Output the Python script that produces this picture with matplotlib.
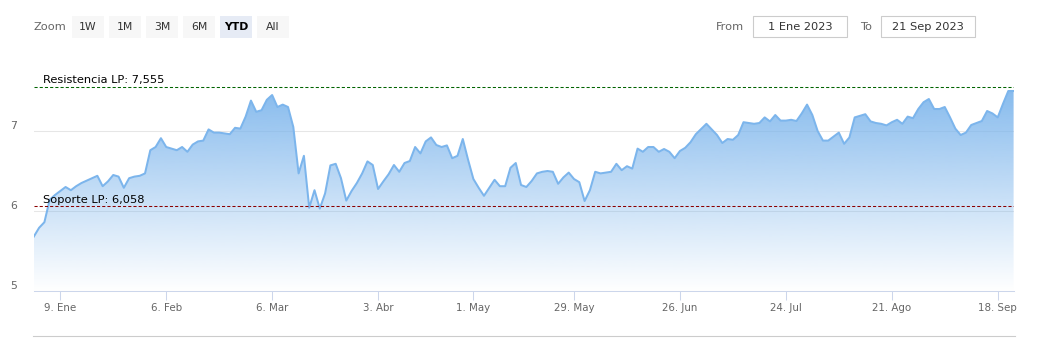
#!/usr/bin/env python3
"""Cotización YTD 2023 con soporte / resistencia de largo plazo (estilo Highstock)."""

import numpy as np
import pandas as pd
import matplotlib
matplotlib.use('Agg')
import matplotlib.pyplot as plt
from matplotlib.patches import Polygon, Rectangle
from matplotlib.lines import Line2D

# --- datos -------------------------------------------------------------------
START = '2023-01-02'
END = '2023-09-21'
HOLIDAYS = ['2023-04-07', '2023-04-10', '2023-05-01']   # sesiones sin cotización

PRICES = [
    5.68, 5.79, 5.86, 6.14, 6.20, 6.25, 6.30, 6.26, 6.31, 6.35,
    6.38, 6.41, 6.44, 6.31, 6.37, 6.45, 6.43, 6.29, 6.41, 6.43,
    6.44, 6.47, 6.76, 6.80, 6.91, 6.80, 6.78, 6.76, 6.80, 6.74,
    6.83, 6.87, 6.88, 7.02, 6.98, 6.98, 6.97, 6.96, 7.04, 7.03,
    7.18, 7.38, 7.24, 7.26, 7.39, 7.45, 7.30, 7.33, 7.30, 7.05,
    6.47, 6.69, 6.04, 6.26, 6.03, 6.22, 6.57, 6.59, 6.41, 6.13,
    6.25, 6.35, 6.47, 6.62, 6.575, 6.275, 6.37, 6.46, 6.575, 6.49,
    6.60, 6.625, 6.80, 6.72, 6.87, 6.92, 6.825, 6.80, 6.82, 6.66,
    6.69, 6.90, 6.64, 6.40, 6.29, 6.19, 6.29, 6.39, 6.31, 6.31,
    6.54, 6.60, 6.325, 6.30, 6.375, 6.47, 6.49, 6.50, 6.49, 6.34,
    6.42, 6.48, 6.40, 6.36, 6.125, 6.26, 6.49, 6.47, 6.48, 6.49,
    6.59, 6.51, 6.56, 6.53, 6.78, 6.74, 6.80, 6.80, 6.74, 6.775,
    6.74, 6.66, 6.75, 6.79, 6.86, 6.96, 7.025, 7.09, 7.02, 6.95,
    6.85, 6.90, 6.89, 6.95, 7.11, 7.10, 7.09, 7.10, 7.17, 7.12,
    7.20, 7.13, 7.13, 7.14, 7.125, 7.22, 7.33, 7.20, 7.00, 6.88,
    6.88, 6.93, 6.98, 6.84, 6.92, 7.17, 7.19, 7.21, 7.12, 7.10,
    7.09, 7.07, 7.11, 7.14, 7.09, 7.18, 7.16, 7.275, 7.36, 7.40,
    7.275, 7.275, 7.30, 7.17, 7.03, 6.95, 6.98, 7.075, 7.10, 7.125,
    7.25, 7.22, 7.17, 7.34, 7.50, 7.50,
]

RESISTANCE = 7.555
SUPPORT = 6.058
LEVEL_LABELS = ['Resistencia LP: 7,555', 'Soporte LP: 6,058']

TICK_DATES = ['2023-01-09', '2023-02-06', '2023-03-06', '2023-04-03', '2023-05-01',
              '2023-05-29', '2023-06-26', '2023-07-24', '2023-08-21', '2023-09-18']
TICK_LABELS = ['9. Ene', '6. Feb', '6. Mar', '3. Abr', '1. May',
               '29. May', '26. Jun', '24. Jul', '21. Ago', '18. Sep']
Y_TICKS = [5, 6, 7]

ZOOM_BUTTONS = ['1W', '1M', '3M', '6M', 'YTD', 'All']
SELECTED_BUTTON = 'YTD'
RANGE_FROM = '1 Ene 2023'
RANGE_TO = '21 Sep 2023'

# --- estilo ------------------------------------------------------------------
W, H = 1037, 338
SERIES_RGB = np.array([124, 181, 236]) / 255.0
LABEL_GRAY = '#666666'
TEXT_DARK = '#333333'
AXIS_BLUE = '#ccd6eb'
GRID_GRAY = '#e6e6e6'

plt.rcParams['font.family'] = ['DejaVu Sans']


def fx(x):
    return x / W


def fy(y):
    return 1.0 - y / H


def draw_range_selector(fig):
    fig.text(fx(33), fy(27), 'Zoom', color=LABEL_GRAY, fontsize=8.2,
             ha='left', va='center')
    x = 72
    for name in ZOOM_BUTTONS:
        sel = name == SELECTED_BUTTON
        fig.add_artist(Rectangle((fx(x), fy(38)), fx(32), 22 / H,
                                 transform=fig.transFigure,
                                 facecolor='#e6ebf5' if sel else '#f7f7f7',
                                 edgecolor='none'))
        fig.text(fx(x + 16), fy(27), name, color='#000000' if sel else TEXT_DARK,
                 fontsize=7.8, fontweight='bold' if sel else 'normal',
                 ha='center', va='center')
        x += 37

    fig.text(fx(716), fy(27), 'From', color=LABEL_GRAY, fontsize=8.2,
             ha='left', va='center')
    fig.text(fx(860), fy(27), 'To', color=LABEL_GRAY, fontsize=8.2,
             ha='left', va='center')
    for x0, txt in [(753, RANGE_FROM), (881, RANGE_TO)]:
        fig.add_artist(Rectangle((fx(x0), fy(37)), fx(94), 21 / H,
                                 transform=fig.transFigure, facecolor='white',
                                 edgecolor='#cccccc', linewidth=0.8))
        fig.text(fx(x0 + 47), fy(27), txt, color=TEXT_DARK, fontsize=8.2,
                 ha='center', va='center')


def main():
    dates = pd.bdate_range(START, END, freq='C', holidays=HOLIDAYS)
    assert len(dates) == len(PRICES)
    x = np.arange(len(dates))
    y = np.array(PRICES)
    ticks = [int(dates.searchsorted(pd.Timestamp(d))) for d in TICK_DATES]

    fig = plt.figure(figsize=(W / 100, H / 100), dpi=100)
    ax = fig.add_axes([fx(33.8), 47 / H, 979.8 / W, 220 / H])
    ymin, ymax = 5.0, 7.75
    ax.set_xlim(0, len(x) - 1)
    ax.set_ylim(ymin, ymax)

    # relleno con degradado recortado bajo la curva
    grad = np.zeros((256, 1, 4))
    grad[:, 0, :3] = SERIES_RGB
    grad[:, 0, 3] = np.linspace(0.0, 1.0, 256)
    im = ax.imshow(grad, extent=[x[0], x[-1], ymin, ymax], origin='lower',
                   aspect='auto', zorder=1, interpolation='bilinear')
    verts = [(x[0], ymin)] + list(zip(x, y)) + [(x[-1], ymin)]
    clip = Polygon(verts, closed=True, facecolor='none', edgecolor='none')
    ax.add_patch(clip)
    im.set_clip_path(clip)

    ax.plot(x, y, color=SERIES_RGB, lw=1.45, zorder=2, solid_joinstyle='round')

    # soporte / resistencia
    for level, color, label in [(RESISTANCE, '#006400', LEVEL_LABELS[0]),
                                (SUPPORT, '#8b0000', LEVEL_LABELS[1])]:
        ax.axhline(level, color=color, lw=0.75, ls=(0, (3, 2)), zorder=3)
        ax.annotate(label, xy=(0, level), xycoords=('axes fraction', 'data'),
                    xytext=(6.8, 2.3), textcoords='offset points',
                    fontsize=8.2, color='#000000', va='baseline', ha='left',
                    zorder=4)

    # ejes
    for side in ['top', 'right', 'left']:
        ax.spines[side].set_visible(False)
    ax.spines['bottom'].set_color(AXIS_BLUE)
    ax.spines['bottom'].set_linewidth(0.75)
    ax.set_yticks(Y_TICKS)
    ax.set_yticklabels([str(v) for v in Y_TICKS])
    ax.tick_params(axis='y', length=0, pad=12, labelsize=7.8,
                   labelcolor=LABEL_GRAY)
    for lab in ax.get_yticklabels():
        lab.set_va('bottom')
    ax.grid(axis='y', color=GRID_GRAY, lw=0.75, zorder=0)
    ax.set_axisbelow(True)
    ax.set_xticks(ticks)
    ax.set_xticklabels(TICK_LABELS)
    ax.tick_params(axis='x', length=6.5, width=0.75, color=AXIS_BLUE, pad=2,
                   labelsize=7.4, labelcolor=LABEL_GRAY)

    # línea inferior del navegador
    fig.add_artist(Line2D([fx(33), fx(1015)], [fy(336), fy(336)],
                          transform=fig.transFigure, color='#cccccc', lw=0.8))

    draw_range_selector(fig)
    fig.savefig('out.png', dpi=100)
    plt.close(fig)


if __name__ == '__main__':
    main()
